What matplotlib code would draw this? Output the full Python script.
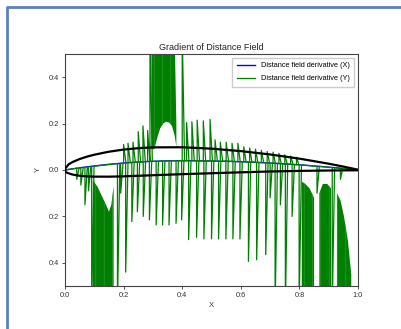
# Gradient of Distance Field - recreated chart

import numpy as np
import matplotlib
matplotlib.use("Agg")
import matplotlib.pyplot as plt
from matplotlib.lines import Line2D

plt.rcParams['font.family'] = ['Liberation Sans', 'DejaVu Sans']
plt.rcParams['hatch.linewidth'] = 0.4

# ==============================
# DATA
# ==============================
# airfoil outline
foil_x = [0.0, 0.002, 0.005, 0.0125, 0.025, 0.05, 0.075, 0.1, 0.15, 0.2, 0.25, 0.3,
          0.4, 0.5, 0.6, 0.7, 0.8, 0.9, 0.95, 1.0]
foil_upper = [0.0, 0.0085, 0.013, 0.0244, 0.0339, 0.0473, 0.0576, 0.0659, 0.0789, 0.088,
              0.0941, 0.0976, 0.098, 0.0919, 0.0814, 0.0669, 0.0489, 0.0271, 0.0147, 0.0013]
foil_lower = [0.0, -0.0075, -0.011, -0.0143, -0.0195, -0.0249, -0.0274, -0.0286, -0.0288,
              -0.0274, -0.025, -0.0226, -0.018, -0.014, -0.01, -0.0065, -0.0039, -0.0022,
              -0.0016, -0.0013]

# derivative (X) line
dx_x = [0.0, 0.05, 0.1, 0.15, 0.2, 0.25, 0.3, 0.35, 0.4, 0.5, 0.6, 0.7, 0.8, 0.9, 0.95, 1.0]
dx_y = [0.0, 0.0094, 0.0175, 0.0244, 0.03, 0.0344, 0.0375, 0.0394, 0.04, 0.0389, 0.0356,
        0.03, 0.0222, 0.0122, 0.0064, 0.0]

# derivative (Y): downward teeth  (position, tip, base)
down_x = [0.040, 0.054, 0.068, 0.080, 0.091, 0.179, 0.190, 0.207, 0.228, 0.247, 0.267,
          0.288, 0.311, 0.333, 0.355, 0.379, 0.398, 0.422, 0.449, 0.474, 0.500, 0.524,
          0.549, 0.573, 0.597, 0.626, 0.654, 0.685, 0.700, 0.717, 0.735, 0.752, 0.775,
          0.799, 0.860, 0.912, 0.940]
down_tip = [-0.04, -0.065, -0.15, -0.09, -0.6, -0.6, -0.10, -0.44, -0.222, -0.18, -0.20,
            -0.215, -0.237, -0.237, -0.237, -0.23, -0.215, -0.30, -0.29, -0.297, -0.297,
            -0.297, -0.297, -0.297, -0.297, -0.394, -0.387, -0.365, -0.12, -0.6, -0.15,
            -0.6, -0.20, -0.6, -0.10, -0.6, -0.04]
down_base = [0.008, 0.010, 0.012, 0.014, 0.016, 0.028, 0.029, 0.031, 0.033, 0.034, 0.036,
             0.037, 0.038, 0.039, 0.040, 0.040, 0.040, 0.040, 0.040, 0.039, 0.039, 0.038,
             0.038, 0.037, 0.036, 0.034, 0.033, 0.031, 0.030, 0.029, 0.027, 0.026, 0.024,
             0.022, 0.016, 0.010, 0.007]

# derivative (Y): upward teeth
up_x = [0.200, 0.215, 0.232, 0.250, 0.266, 0.282, 0.290, 0.400, 0.415, 0.433, 0.451,
        0.472, 0.495, 0.512, 0.530, 0.550, 0.570, 0.590, 0.610, 0.630, 0.650, 0.670,
        0.690, 0.710, 0.730, 0.750, 0.770, 0.790]
up_tip = [0.110, 0.115, 0.120, 0.165, 0.190, 0.170, 0.6, 0.6, 0.204, 0.208, 0.215, 0.212,
          0.218, 0.130, 0.120, 0.120, 0.115, 0.115, 0.100, 0.095, 0.090, 0.085, 0.080,
          0.077, 0.072, 0.066, 0.060, 0.055]
up_base = [0.030, 0.031, 0.033, 0.034, 0.036, 0.037, 0.037, 0.040, 0.040, 0.040, 0.040,
           0.039, 0.039, 0.039, 0.038, 0.038, 0.037, 0.036, 0.035, 0.034, 0.033, 0.032,
           0.031, 0.030, 0.028, 0.026, 0.025, 0.023]

# dense noisy patches of the (Y) curve
patch_a_x = [0.095, 0.11, 0.125, 0.14, 0.15, 0.158, 0.166]
patch_a_top = [-0.045, -0.07, -0.11, -0.15, -0.18, -0.15, -0.07]
patch_b_x = [0.295, 0.305, 0.315, 0.325, 0.335, 0.345, 0.355, 0.365, 0.374, 0.38]
patch_b_low = [0.09, 0.09, 0.14, 0.18, 0.2, 0.208, 0.205, 0.19, 0.15, 0.10]
patch_b_top = [0.6, 0.6, 0.6, 0.6, 0.6, 0.6, 0.6, 0.6, 0.6, 0.2]
patch_c_x = [0.808, 0.82, 0.835, 0.85]
patch_c_top = [-0.05, -0.06, -0.08, -0.12]
patch_d_x = [0.868, 0.88, 0.895, 0.908]
patch_d_top = [-0.10, -0.06, -0.06, -0.08]
patch_e_x = [0.928, 0.94, 0.952, 0.965, 0.977]
patch_e_top = [-0.10, -0.13, -0.20, -0.30, -0.45]

x_ticks = [0.0, 0.2, 0.4, 0.6, 0.8, 1.0]
x_ticklabels = ["0:0", "0:2", "0:4", "0:6", "0:8", "1:0"]
y_ticks = [-0.4, -0.2, 0.0, 0.2, 0.4]
y_ticklabels = ["0:4", "0:2", "0:0", "0:2", "0:4"]

# ==============================
# BUILD (Y) PATH FROM TEETH
# ==============================
teeth = sorted(zip(down_x + up_x, down_tip + up_tip, down_base + up_base))
gx, gy = [0.0], [0.0]
for tx, tip, base in teeth:
    gx += [tx, tx, tx + 0.008]
    gy += [base, tip, base]
gx.append(1.0)
gy.append(0.0)

# ==============================
# FIGURE
# ==============================
fig = plt.figure(figsize=(4.02, 3.29), dpi=100)
fig.patch.set_facecolor("white")
fig.add_artist(Line2D([0.017, 0.017, 1.0], [0.0, 0.979, 0.979], transform=fig.transFigure,
                      color="#5b7fc0", lw=2.0))

ax = fig.add_axes([0.1617, 0.1307, 0.7289, 0.7052])
green = "#008000"

ax.plot(dx_x, dx_y, color="blue", lw=1.0, label="Distance field derivative (X)")
ax.plot(gx, gy, color=green, lw=0.9, label="Distance field derivative (Y)")

patch_kw = dict(facecolor=green, edgecolor="#3f9f3f", hatch="||", lw=0)
ax.fill_between(patch_a_x, patch_a_top, -0.6, **patch_kw)
ax.fill_between(patch_b_x, patch_b_low, patch_b_top, **patch_kw)
ax.fill_between(patch_c_x, patch_c_top, -0.6, **patch_kw)
ax.fill_between(patch_d_x, patch_d_top, -0.6, **patch_kw)
ax.fill_between(patch_e_x, patch_e_top, -0.6, **patch_kw)

outline_x = foil_x[::-1] + foil_x[1:]
outline_y = foil_upper[::-1] + foil_lower[1:]
ax.plot(outline_x, outline_y, color="black", lw=1.6, zorder=5)

ax.set_xlim(0, 1)
ax.set_ylim(-0.5, 0.5)
ax.set_xticks(x_ticks)
ax.set_xticklabels(x_ticklabels)
ax.set_yticks(y_ticks)
ax.set_yticklabels(y_ticklabels)
ax.tick_params(labelsize=5.3, length=2.5, width=0.6, pad=2, colors="#333333")
for sp in ax.spines.values():
    sp.set_color("#444444")
    sp.set_linewidth(0.8)

ax.set_title("Gradient of Distance Field", fontsize=6.5, pad=3, color="#222222")
ax.set_xlabel("X", fontsize=5.5, labelpad=2, color="#333333")
ax.set_ylabel("Y", fontsize=5.5, labelpad=5, color="#333333")
ax.legend(loc="upper right", fontsize=5.3, handlelength=2.5, borderpad=0.6,
          labelspacing=0.8, framealpha=1, edgecolor="#cccccc", fancybox=False)

plt.savefig("out.png", dpi=100)
plt.close()
